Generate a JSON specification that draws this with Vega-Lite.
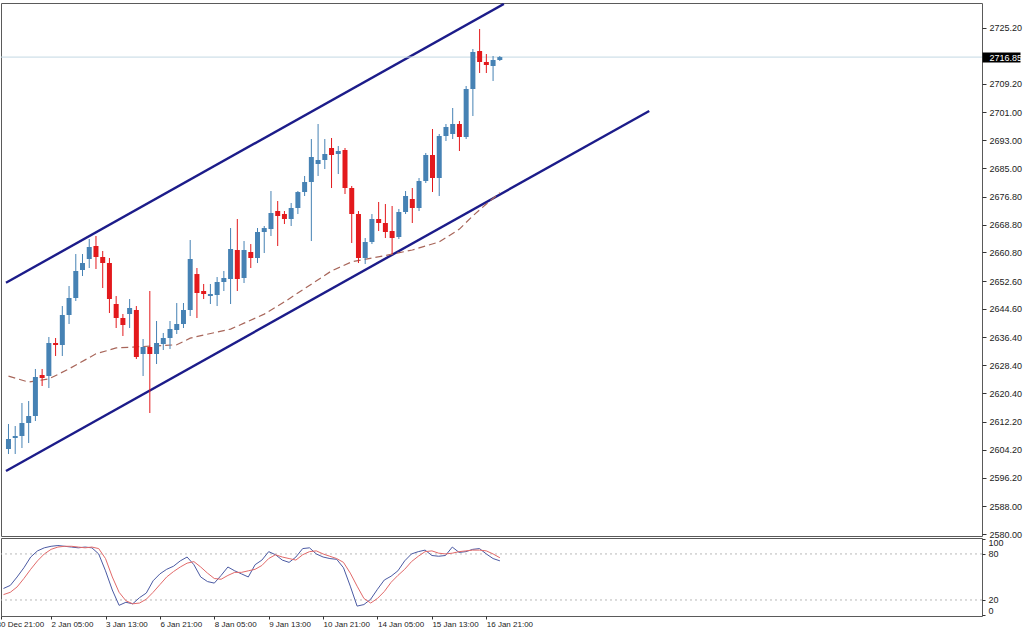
{
"$schema":"https://vega.github.io/schema/vega-lite/v6.json",
"padding":{"left":-5,"top":2,"right":0,"bottom":0},
"background":"white",
"spacing":2,
"bounds":"flush",
"config":{"view":{"stroke":"#5a5a5a","strokeWidth":1},"font":"Liberation Sans","axis":{"labelFont":"Liberation Sans","labelFontSize":9,"labelColor":"#222","tickColor":"#333","domain":false,"grid":false,"labelOverlap":false}},
"datasets":{
"candles":[
{"i":0,"open":2604.4,"high":2611.56,"low":2602.96,"close":2607.26,"k":35,"d":27},
{"i":1,"open":2607.55,"high":2610.99,"low":2602.96,"close":2608.12,"k":39,"d":30},
{"i":2,"open":2608.12,"high":2617.59,"low":2604.68,"close":2611.85,"k":50,"d":37},
{"i":3,"open":2611.85,"high":2618.16,"low":2606.11,"close":2613.86,"k":62,"d":48},
{"i":4,"open":2613.86,"high":2627.35,"low":2612.42,"close":2625.05,"k":76,"d":60},
{"i":5,"open":2625.62,"high":2627.35,"low":2622.47,"close":2624.76,"k":84,"d":71},
{"i":6,"open":2625.34,"high":2636.53,"low":2621.89,"close":2634.81,"k":88,"d":80},
{"i":7,"open":2634.81,"high":2636.24,"low":2631.08,"close":2634.23,"k":90,"d":86},
{"i":8,"open":2634.23,"high":2645.42,"low":2631.08,"close":2642.84,"k":91,"d":89},
{"i":9,"open":2642.84,"high":2651.16,"low":2640.26,"close":2647.72,"k":90,"d":90},
{"i":10,"open":2647.72,"high":2660.34,"low":2646.86,"close":2655.47,"k":89,"d":90},
{"i":11,"open":2655.75,"high":2660.34,"low":2654.03,"close":2657.76,"k":88,"d":89},
{"i":12,"open":2658.91,"high":2664.65,"low":2656.33,"close":2662.35,"k":89,"d":88},
{"i":13,"open":2662.64,"high":2665.51,"low":2656.04,"close":2659.48,"k":88,"d":89},
{"i":14,"open":2659.48,"high":2661.21,"low":2650.59,"close":2657.76,"k":80,"d":87},
{"i":15,"open":2657.76,"high":2659.2,"low":2643.41,"close":2647.43,"k":58,"d":74},
{"i":16,"open":2646.0,"high":2648.29,"low":2639.11,"close":2641.98,"k":33,"d":50},
{"i":17,"open":2641.98,"high":2643.13,"low":2636.82,"close":2639.97,"k":13,"d":30},
{"i":18,"open":2643.13,"high":2647.43,"low":2639.11,"close":2644.85,"k":17,"d":19},
{"i":19,"open":2644.28,"high":2645.42,"low":2630.21,"close":2630.79,"k":15,"d":15},
{"i":20,"open":2631.65,"high":2635.95,"low":2625.34,"close":2633.66,"k":23,"d":16},
{"i":21,"open":2633.66,"high":2649.73,"low":2614.72,"close":2631.65,"k":29,"d":21},
{"i":22,"open":2631.65,"high":2641.12,"low":2628.78,"close":2634.81,"k":45,"d":30},
{"i":23,"open":2634.52,"high":2637.68,"low":2632.8,"close":2636.24,"k":54,"d":40},
{"i":24,"open":2636.24,"high":2641.12,"low":2633.09,"close":2638.82,"k":60,"d":50},
{"i":25,"open":2638.54,"high":2646.28,"low":2637.39,"close":2640.26,"k":64,"d":57},
{"i":26,"open":2640.26,"high":2646.28,"low":2639.11,"close":2644.28,"k":71,"d":63},
{"i":27,"open":2644.28,"high":2664.36,"low":2642.55,"close":2658.91,"k":76,"d":68},
{"i":28,"open":2654.6,"high":2656.33,"low":2641.98,"close":2649.15,"k":66,"d":70},
{"i":29,"open":2649.73,"high":2651.74,"low":2647.43,"close":2648.87,"k":50,"d":63},
{"i":30,"open":2648.29,"high":2651.74,"low":2646.0,"close":2648.87,"k":44,"d":55},
{"i":31,"open":2648.58,"high":2653.74,"low":2645.42,"close":2652.31,"k":42,"d":48},
{"i":32,"open":2652.31,"high":2655.47,"low":2649.73,"close":2653.46,"k":52,"d":47},
{"i":33,"open":2653.17,"high":2667.8,"low":2646.0,"close":2661.78,"k":63,"d":52},
{"i":34,"open":2661.49,"high":2670.39,"low":2649.73,"close":2653.17,"k":58,"d":56},
{"i":35,"open":2653.46,"high":2664.07,"low":2652.02,"close":2661.49,"k":54,"d":56},
{"i":36,"open":2660.92,"high":2663.21,"low":2656.33,"close":2659.2,"k":50,"d":58},
{"i":37,"open":2659.2,"high":2667.8,"low":2657.76,"close":2666.66,"k":66,"d":60},
{"i":38,"open":2666.66,"high":2668.38,"low":2660.63,"close":2667.8,"k":72,"d":65},
{"i":39,"open":2667.51,"high":2678.42,"low":2665.51,"close":2672.11,"k":83,"d":74},
{"i":40,"open":2672.68,"high":2675.55,"low":2662.64,"close":2671.25,"k":79,"d":79},
{"i":41,"open":2671.82,"high":2672.68,"low":2668.95,"close":2670.39,"k":72,"d":76},
{"i":42,"open":2670.39,"high":2674.98,"low":2668.38,"close":2673.54,"k":69,"d":74},
{"i":43,"open":2673.54,"high":2678.42,"low":2671.82,"close":2678.13,"k":76,"d":72},
{"i":44,"open":2678.13,"high":2682.73,"low":2676.99,"close":2681.0,"k":87,"d":79},
{"i":45,"open":2681.0,"high":2693.34,"low":2664.07,"close":2688.18,"k":88,"d":83},
{"i":46,"open":2686.17,"high":2697.65,"low":2682.73,"close":2687.32,"k":80,"d":84},
{"i":47,"open":2687.32,"high":2693.34,"low":2684.73,"close":2689.04,"k":76,"d":80},
{"i":48,"open":2690.76,"high":2693.63,"low":2679.28,"close":2688.75,"k":74,"d":77},
{"i":49,"open":2689.04,"high":2691.33,"low":2683.3,"close":2689.9,"k":73,"d":74},
{"i":50,"open":2690.19,"high":2690.76,"low":2677.56,"close":2679.28,"k":62,"d":69},
{"i":51,"open":2679.28,"high":2679.86,"low":2663.5,"close":2671.82,"k":38,"d":55},
{"i":52,"open":2671.82,"high":2672.68,"low":2657.76,"close":2659.2,"k":12,"d":38},
{"i":53,"open":2659.2,"high":2664.93,"low":2657.47,"close":2663.79,"k":14,"d":22},
{"i":54,"open":2663.79,"high":2671.82,"low":2663.21,"close":2670.39,"k":21,"d":16},
{"i":55,"open":2670.39,"high":2675.27,"low":2666.94,"close":2669.24,"k":34,"d":22},
{"i":56,"open":2669.24,"high":2674.69,"low":2664.93,"close":2666.66,"k":46,"d":31},
{"i":57,"open":2666.94,"high":2674.12,"low":2660.34,"close":2664.93,"k":51,"d":43},
{"i":58,"open":2665.22,"high":2673.26,"low":2664.65,"close":2672.4,"k":58,"d":52},
{"i":59,"open":2672.4,"high":2678.42,"low":2671.82,"close":2676.99,"k":71,"d":60},
{"i":60,"open":2676.13,"high":2679.28,"low":2669.24,"close":2673.54,"k":80,"d":70},
{"i":61,"open":2673.54,"high":2682.15,"low":2672.68,"close":2681.29,"k":83,"d":77},
{"i":62,"open":2681.29,"high":2689.33,"low":2680.72,"close":2688.75,"k":85,"d":83},
{"i":63,"open":2688.75,"high":2696.21,"low":2678.13,"close":2682.15,"k":78,"d":84},
{"i":64,"open":2682.15,"high":2694.78,"low":2676.99,"close":2694.2,"k":77,"d":81},
{"i":65,"open":2694.2,"high":2697.65,"low":2692.77,"close":2696.79,"k":78,"d":80},
{"i":66,"open":2694.78,"high":2702.24,"low":2693.34,"close":2697.65,"k":89,"d":81},
{"i":67,"open":2697.65,"high":2698.51,"low":2689.9,"close":2693.92,"k":82,"d":83},
{"i":68,"open":2693.92,"high":2708.55,"low":2693.34,"close":2707.69,"k":83,"d":84},
{"i":69,"open":2707.69,"high":2719.17,"low":2699.94,"close":2718.31,"k":86,"d":85},
{"i":70,"open":2718.59,"high":2724.91,"low":2712.28,"close":2715.44,"k":87,"d":85},
{"i":71,"open":2715.44,"high":2717.73,"low":2712.28,"close":2714.58,"k":80,"d":84},
{"i":72,"open":2714.29,"high":2717.16,"low":2709.99,"close":2716.01,"k":74,"d":80},
{"i":73,"open":2716.01,"high":2717.16,"low":2715.73,"close":2716.85,"k":71,"d":75}
],
"ma":[
{"i":0,"ma":2625.3},{"i":3,"ma":2623.6},{"i":6,"ma":2624.5},{"i":9,"ma":2627.4},{"i":13,"ma":2631.7},{"i":16,"ma":2633.4},{"i":19,"ma":2633.7},{"i":22,"ma":2634.0},{"i":25,"ma":2634.3},{"i":27,"ma":2636.2},{"i":29,"ma":2637.1},{"i":33,"ma":2638.8},{"i":35,"ma":2640.5},{"i":38,"ma":2643.1},{"i":41,"ma":2646.6},{"i":45,"ma":2651.7},{"i":48,"ma":2655.5},{"i":51,"ma":2658.1},{"i":54,"ma":2659.2},{"i":57,"ma":2660.3},{"i":60,"ma":2661.5},{"i":64,"ma":2663.8},{"i":67,"ma":2667.5},{"i":69,"ma":2671.3},{"i":71,"ma":2674.7},{"i":73,"ma":2677.9}
],
"channels":[
{"id":"upper","i":-0.37,"price":2652.1},{"id":"upper","i":73.6,"price":2732.1},
{"id":"lower","i":-0.37,"price":2598.1},{"id":"lower","i":95.2,"price":2701.4}
],
"bid":[{"price":2716.85}],
"levels":[{"level":80},{"level":20}]
},
"vconcat":[
{
"width":981,"height":533,
"layer":[
{"data":{"name":"channels"},"mark":{"type":"line","color":"#1c1c8a","strokeWidth":2.4,"clip":true},
 "encoding":{
  "x":{"field":"i","type":"quantitative","scale":{"domain":[-0.368,143.9],"nice":false,"zero":false},"axis":null},
  "y":{"field":"price","type":"quantitative","title":null,"scale":{"domain":[2579.43,2732.37],"nice":false,"zero":false},
   "axis":{"orient":"right","title":null,"tickCount":40,"values":[2580,2588,2596.2,2604.2,2612.2,2620.4,2628.4,2636.4,2644.6,2652.6,2660.8,2668.8,2676.8,2685,2693,2701,2709.2,2716.85,2725.2],"format":".2f",
    "labelAlign":"left","labelBaseline":"middle","labelBound":false,"labelOverlap":false,
    "tickSize":{"condition":{"test":"abs(datum.value-2716.85)<0.01","value":38},"value":4},
    "tickWidth":{"condition":{"test":"abs(datum.value-2716.85)<0.01","value":10},"value":1},
    "tickColor":{"condition":{"test":"abs(datum.value-2716.85)<0.01","value":"#000000"},"value":"#333333"},
    "labelColor":{"condition":{"test":"abs(datum.value-2716.85)<0.01","value":"#ffffff"},"value":"#222222"},
    "labelPadding":{"condition":{"test":"abs(datum.value-2716.85)<0.01","value":-31},"value":3}}},
  "detail":{"field":"id"}}},
{"data":{"name":"ma"},"mark":{"type":"line","color":"#a8665a","strokeWidth":1.2,"strokeDash":[7,4],"clip":true},
 "encoding":{"x":{"field":"i","type":"quantitative"},"y":{"field":"ma","type":"quantitative","title":null}}},
{"data":{"name":"bid"},"mark":{"type":"rule","color":"#c3d8e3","strokeWidth":1},
 "encoding":{"y":{"field":"price","type":"quantitative","title":null}}},
{"data":{"name":"candles"},"mark":{"type":"rule","strokeWidth":1,"clip":true},
 "encoding":{"x":{"field":"i","type":"quantitative"},"y":{"field":"low","type":"quantitative","title":null},"y2":{"field":"high"},
  "color":{"condition":{"test":"datum.close >= datum.open","value":"#4682b4"},"value":"#e3191c"}}},
{"data":{"name":"candles"},"mark":{"type":"bar","width":5,"clip":true},
 "encoding":{"x":{"field":"i","type":"quantitative"},"y":{"field":"open","type":"quantitative","title":null},"y2":{"field":"close"},
  "color":{"condition":{"test":"datum.close >= datum.open","value":"#4682b4"},"value":"#e3191c"}}}
]
},
{
"width":981,"height":78,
"layer":[
{"data":{"name":"levels"},"mark":{"type":"rule","color":"#b8b8b8","strokeWidth":1,"strokeDash":[2,3]},
 "encoding":{"y":{"field":"level","type":"quantitative","title":null,"scale":{"domain":[-0.9,100.8],"nice":false,"zero":false},
   "axis":{"orient":"right","title":null,"tickCount":10,"values":[0,20,80,100],"labelAlign":"left","tickSize":3,"labelPadding":3,"labelBound":false,"labelOverlap":false,
    "labelBaseline":{"condition":[{"test":"datum.value == 100","value":"top"},{"test":"datum.value == 0","value":"bottom"}],"value":"middle"}}}}},
{"data":{"name":"candles"},"mark":{"type":"line","color":"#4b5aa3","strokeWidth":1,"clip":true},
 "encoding":{
  "x":{"field":"i","type":"quantitative","scale":{"domain":[-0.368,143.9],"nice":false,"zero":false},
   "axis":{"orient":"bottom","title":null,"tickCount":20,"values":[-0.36,7,15,23,31,39,47,55,63,71],"tickSize":3,"labelFontSize":8,"labelAlign":"left","labelBaseline":"top","labelPadding":1,"labelBound":false,"labelFlush":false,"labelOverlap":false,
    "labelOffset":{"condition":{"test":"datum.value < 0","value":-5},"value":0},
    "labelExpr":"datum.value < 0 ? '30 Dec 21:00' : datum.value == 7 ? '2 Jan 05:00' : datum.value == 15 ? '3 Jan 13:00' : datum.value == 23 ? '6 Jan 21:00' : datum.value == 31 ? '8 Jan 05:00' : datum.value == 39 ? '9 Jan 13:00' : datum.value == 47 ? '10 Jan 21:00' : datum.value == 55 ? '14 Jan 05:00' : datum.value == 63 ? '15 Jan 13:00' : '16 Jan 21:00'"}},
  "y":{"field":"k","type":"quantitative","title":null}}},
{"data":{"name":"candles"},"mark":{"type":"line","color":"#e26a6a","strokeWidth":1,"clip":true},
 "encoding":{"x":{"field":"i","type":"quantitative"},"y":{"field":"d","type":"quantitative","title":null}}}
]
}
]
}
